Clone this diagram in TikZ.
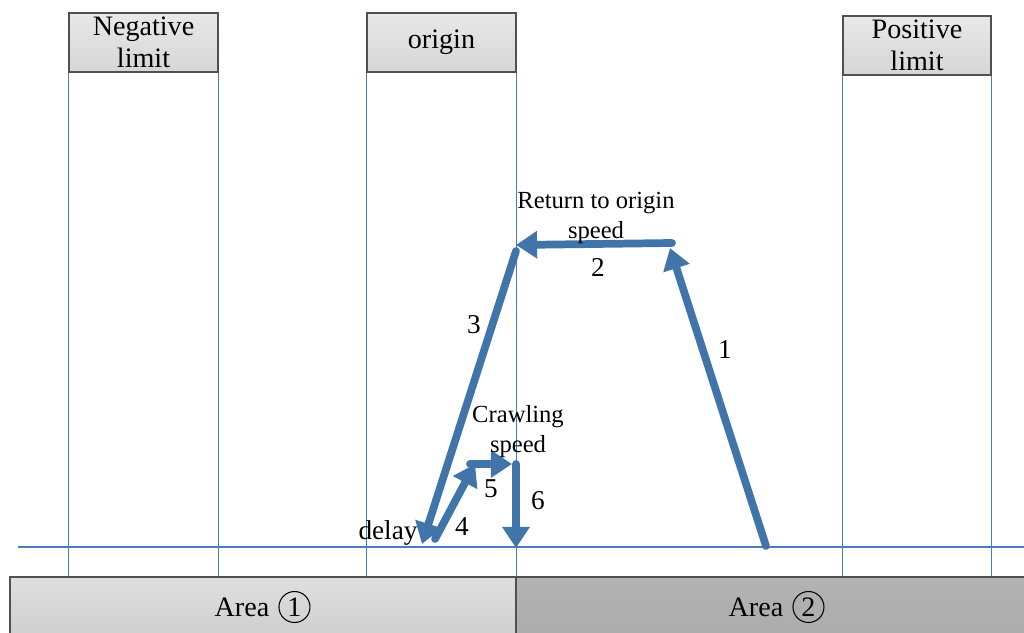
\documentclass[tikz,border=0pt]{standalone}
\usepackage{fontspec}
\setmainfont{Liberation Serif}
\usepackage{xcolor}
\usetikzlibrary{arrows.meta,positioning,calc}

\definecolor{lineblue}{RGB}{74,126,187}
\definecolor{arrowblue}{RGB}{65,117,170}
\definecolor{boxedge}{RGB}{80,80,80}

\tikzset{
    limitbox/.style={draw=boxedge, line width=0.8pt, top color=gray!18, bottom color=gray!32,
        minimum height=1.18cm, align=center, font=\fontsize{16}{18}\selectfont, inner sep=0pt},
    areabar/.style={draw=boxedge, line width=0.8pt, minimum height=1.2cm, inner sep=0pt,
        font=\fontsize{16}{18}\selectfont},
    areanum/.style={draw, circle, line width=0.6pt, minimum size=0.62cm, inner sep=0pt,
        font=\fontsize{16}{18}\selectfont},
    guide/.style={draw=lineblue, line width=0.85pt},
    move/.style={draw=arrowblue, line width=4.4pt, line cap=round,
        -{Triangle[length=12pt,width=15pt]}},
    steplabel/.style={font=\fontsize{15.5}{17}\selectfont, inner sep=0pt},
    speedlabel/.style={font=\fontsize{14}{17}\selectfont, align=center, inner sep=0pt}
}

\begin{document}
\begin{tikzpicture}[x=0.02cm, y=-0.02cm]
    \useasboundingbox (0,0) rectangle (1024,632);

    % bottom areas
    \node[areabar, top color=gray!25, bottom color=gray!38, minimum width=10.12cm] (areaone) at (263,607) {};
    \node[areabar, top color=gray!60, bottom color=gray!65, minimum width=10.28cm] (areatwo) at (773,607) {};
    \node[font=\fontsize{16}{18}\selectfont, inner sep=0pt] (areaonetext) at (242,607) {Area};
    \node[areanum, right=5pt of areaonetext] (areaonenum) {1};
    \node[font=\fontsize{16}{18}\selectfont, inner sep=0pt] (areatwotext) at (756,607) {Area};
    \node[areanum, right=5pt of areatwotext] (areatwonum) {2};

    % limit and origin boxes
    \node[limitbox, minimum width=2.98cm] (neglim) at (143.5,42.5) {Negative\\limit};
    \node[limitbox, minimum width=2.98cm] (orig) at (441.5,42.5) {origin};
    \node[limitbox, minimum width=2.96cm] (poslim) at (917,45.5) {Positive\\limit};

    % guide lines
    \foreach \b in {neglim, orig, poslim} {
        \draw[guide] (\b.south west) -- (\b.south west |- areaone.north);
        \draw[guide] (\b.south east) -- (\b.south east |- areaone.north);
    }
    \coordinate (basew) at (18,547);
    \coordinate (basee) at (1024,547);
    \draw[guide] (basew) -- (basee);

    % path points
    \coordinate (start) at (766,546);
    \coordinate (fastr) at (670,248);
    \coordinate (fastrb) at (672,243);
    \coordinate (fastl) at (516,245);
    \coordinate (fastlb) at (516,251);
    \coordinate (turn) at (422,544);
    \coordinate (turnb) at (435,539);
    \coordinate (crawll) at (475,464);
    \coordinate (crawllb) at (470,464);
    \coordinate (crawlr) at (512,464);
    \coordinate (crawlrb) at (516,464);
    \coordinate (stop) at (516,548);

    % moves
    \draw[move] (start) -- (fastr);
    \draw[move] (fastrb) -- (fastl);
    \draw[move] (fastlb) -- (turn);
    \draw[move] (turnb) -- (crawll);
    \draw[move] (crawllb) -- (crawlr);
    \draw[move] (crawlrb) -- (stop);

    % labels
    \node[steplabel] (one) at (725,350) {1};
    \node[steplabel] (two) at (598,267) {2};
    \node[steplabel] (three) at (474,325) {3};
    \node[steplabel] (four) at (462,527) {4};
    \node[steplabel] (five) at (491,489) {5};
    \node[steplabel] (six) at (538,501) {6};
    \node[steplabel] (delay) at (388,533) {delay};
    \node[speedlabel] (retspeed) at (596,218) {Return to origin\\speed};
    \node[speedlabel] (crawlspeed) at (518,432) {Crawling\\speed};
\end{tikzpicture}
\end{document}
